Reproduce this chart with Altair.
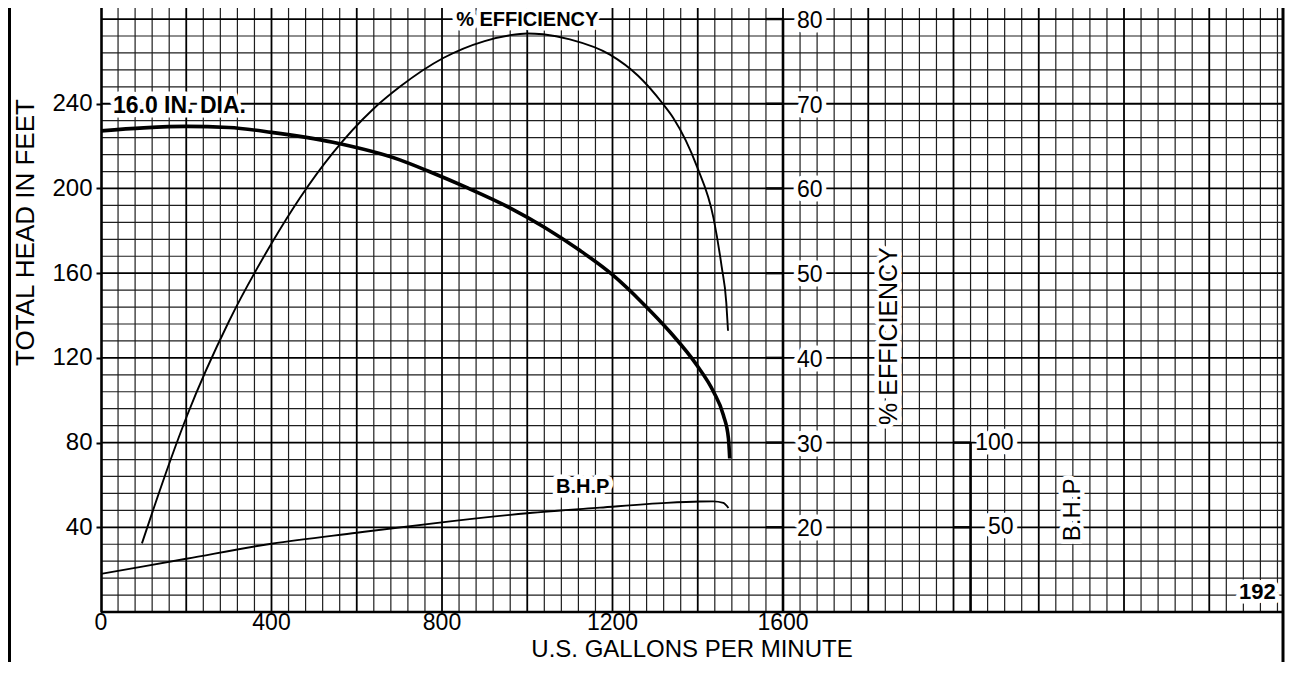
import altair as alt
import pandas as pd

# ---------------- data ----------------
# head-capacity curve (16.0 in. impeller)
gpm_head = [0, 100, 200, 300, 400, 544, 701, 770, 856, 958, 1041, 1123, 1199,
            1272, 1335, 1398, 1437, 1460, 1472, 1475]
head_ft = [227.2, 228.6, 229.3, 228.8, 226.5, 221.8, 213.5, 208.0, 200.6, 191.0,
           181.6, 170.8, 159.4, 145.6, 132.2, 116.5, 104.0, 93.0, 82.0, 72.5]

# efficiency curve (%)
gpm_eff = [96, 122, 162, 202, 300, 400, 467, 544, 637, 701, 803, 900, 960, 1000,
           1037, 1100, 1194, 1260, 1318, 1343, 1398, 1437, 1456, 1467, 1471]
eff_pct = [18.1, 22.0, 27.8, 33.2, 44.3, 53.5, 58.9, 64.2, 69.3, 72.0, 75.4, 77.4,
           78.1, 78.3, 78.2, 77.6, 75.8, 73.3, 70.0, 68.3, 62.6, 56.5, 50.8, 46.5, 43.2]

# brake horsepower curve
gpm_bhp = [0, 200, 400, 600, 819, 1000, 1170, 1327, 1405, 1436, 1460, 1472]
bhp_val = [22.5, 31.4, 40.3, 46.8, 53.5, 58.3, 61.6, 64.4, 65.2, 65.3, 64.4, 61.4]

# axis labels / ticks
x_label_values = [0, 400, 800, 1200, 1600]
y_label_values = [40, 80, 120, 160, 200, 240]
eff_tick_values = [20, 30, 40, 50, 60, 70, 80]
bhp_tick_values = [50, 100]
eff_axis_gpm = 1600
bhp_axis_gpm = 2040
tick_len_gpm = 40
x_title = "U.S. GALLONS PER MINUTE"
y_title = "TOTAL HEAD IN FEET"

# chart paper grid
x_grid_minor = [v for v in range(40, 2771, 40) if v % 200]
x_grid_major = list(range(200, 2771, 200))
y_grid_minor = [v for v in range(8, 289, 8) if v % 40]
y_grid_major = list(range(40, 289, 40))

# annotations (positions in gpm / feet of head)
notes_text = ["16.0 IN. DIA.", "% EFFICIENCY", "B.H.P", "192"]
notes_gpm = [184, 1000, 1130, 2713]
notes_head = [239.0, 279.5, 59.0, 9.4]
notes_size = [23, 20, 20, 22]

vnotes_text = ["% EFFICIENCY", "B.H.P"]
vnotes_gpm = [1848, 2280]
vnotes_head = [130.3, 48.2]
vnotes_size = [25, 24]

# ---------------- scales ----------------
W, H = 1182, 612
X_MAX = 2773
HEAD_MAX = 289
X_SCALE = alt.Scale(domain=[0, X_MAX], nice=False, zero=False)
HEAD_SCALE = alt.Scale(domain=[0, HEAD_MAX], nice=False, zero=False)
EFF_SCALE = alt.Scale(domain=[10, 10 + HEAD_MAX / 4], nice=False, zero=False)
BHP_SCALE = alt.Scale(domain=[0, HEAD_MAX * 1.25], nice=False, zero=False)
FONT = "Liberation Sans"


def xq(field):
    return alt.X(field, type="quantitative", scale=X_SCALE, axis=None)


def yq(field, scale):
    return alt.Y(field, type="quantitative", scale=scale, axis=None)


# ---------------- grid ----------------
grid_v_minor = alt.Chart(pd.DataFrame({"g": x_grid_minor})).mark_rule(
    color="#1e1e1e", strokeWidth=1.2).encode(x=xq("g"))
grid_v_major = alt.Chart(pd.DataFrame({"g": x_grid_major})).mark_rule(
    color="#000000", strokeWidth=1.8).encode(x=xq("g"))
grid_h_minor = alt.Chart(pd.DataFrame({"g": y_grid_minor})).mark_rule(
    color="#1e1e1e", strokeWidth=1.2).encode(y=yq("g", HEAD_SCALE))
grid_h_major = alt.Chart(pd.DataFrame({"g": y_grid_major})).mark_rule(
    color="#000000", strokeWidth=1.8).encode(y=yq("g", HEAD_SCALE))

# ---------------- label data frames ----------------
notes_df = pd.DataFrame({"t": notes_text, "gpm": notes_gpm, "head": notes_head, "s": notes_size})
vnotes_df = pd.DataFrame({"t": vnotes_text, "gpm": vnotes_gpm, "head": vnotes_head, "s": vnotes_size})
eff_lab_df = pd.DataFrame({"v": eff_tick_values, "gpm": [eff_axis_gpm] * len(eff_tick_values),
                           "g0": [eff_axis_gpm - tick_len_gpm] * len(eff_tick_values),
                           "t": [str(v) for v in eff_tick_values]})
bhp_lab_df = pd.DataFrame({"v": bhp_tick_values, "gpm": [bhp_axis_gpm] * len(bhp_tick_values),
                           "g0": [bhp_axis_gpm - tick_len_gpm] * len(bhp_tick_values),
                           "t": [str(v) for v in bhp_tick_values]})


def halo(kw):
    d = dict(kw)
    d.update(color="white", stroke="white", strokeWidth=9, strokeJoin="round")
    return d


notes_kw = dict(font=FONT, fontWeight="bold", align="center", baseline="middle")
vnotes_kw = dict(font=FONT, align="center", baseline="middle", angle=270)
efflab_kw = dict(font=FONT, fontSize=23, align="left", baseline="middle", dx=14, dy=2)
bhplab_kw = dict(font=FONT, fontSize=23, align="right", baseline="middle", dx=43)

notes_enc = dict(x=xq("gpm"), y=yq("head", HEAD_SCALE), text="t:N",
                 size=alt.Size("s:Q", scale=None, legend=None))
effl_enc = dict(x=xq("gpm"), y=yq("v", EFF_SCALE), text="t:N")
bhpl_enc = dict(x=xq("gpm"), y=yq("v", BHP_SCALE), text="t:N")

halo_layers = [
    alt.Chart(notes_df).mark_text(**halo(notes_kw)).encode(**notes_enc),
    alt.Chart(vnotes_df).mark_text(**halo(vnotes_kw)).encode(**notes_enc),
    alt.Chart(eff_lab_df).mark_text(**halo(efflab_kw)).encode(**effl_enc),
    alt.Chart(bhp_lab_df).mark_text(**halo(bhplab_kw)).encode(**bhpl_enc),
]
text_layers = [
    alt.Chart(notes_df).mark_text(color="black", **notes_kw).encode(**notes_enc),
    alt.Chart(vnotes_df).mark_text(color="black", **vnotes_kw).encode(**notes_enc),
    alt.Chart(eff_lab_df).mark_text(color="black", **efflab_kw).encode(**effl_enc),
    alt.Chart(bhp_lab_df).mark_text(color="black", **bhplab_kw).encode(**bhpl_enc),
]

# ---------------- internal efficiency and BHP scales ----------------
eff_bar = alt.Chart(pd.DataFrame({"gpm": [eff_axis_gpm], "top": [max(eff_tick_values)],
                                  "bot": [EFF_SCALE.domain[0]]})).mark_rule(
    color="black", strokeWidth=2.6).encode(x=xq("gpm"), y=yq("top", EFF_SCALE), y2="bot")
eff_ticks = alt.Chart(eff_lab_df).mark_rule(color="black", strokeWidth=2.4).encode(
    x=xq("g0"), x2="gpm", y=yq("v", EFF_SCALE))
bhp_bar = alt.Chart(pd.DataFrame({"gpm": [bhp_axis_gpm], "top": [max(bhp_tick_values)],
                                  "bot": [BHP_SCALE.domain[0]]})).mark_rule(
    color="black", strokeWidth=2.6).encode(x=xq("gpm"), y=yq("top", BHP_SCALE), y2="bot")
bhp_ticks = alt.Chart(bhp_lab_df).mark_rule(color="black", strokeWidth=2.4).encode(
    x=xq("g0"), x2="gpm", y=yq("v", BHP_SCALE))

# ---------------- x axis (drawn from the label list through the x scale) ----------------
xlab_df = pd.DataFrame({"gpm": x_label_values, "t": [str(v) for v in x_label_values]})
x_labels = alt.Chart(xlab_df).mark_text(
    font=FONT, fontSize=23, color="black", align="center", baseline="middle").encode(
    x=xq("gpm"), y=alt.value(H + 11), text="t:N")
x_title_mark = alt.Chart(pd.DataFrame({"gpm": [X_MAX / 2], "t": [x_title]})).mark_text(
    font=FONT, fontSize=24, color="black", align="center", baseline="middle").encode(
    x=xq("gpm"), y=alt.value(H + 37.5), text="t:N")
x_domain = alt.Chart(pd.DataFrame({"h": [0]})).mark_rule(
    color="black", strokeWidth=2.6).encode(y=yq("h", HEAD_SCALE))

# ---------------- curves ----------------
y_axis = alt.Axis(values=y_label_values, title=y_title, orient="left",
                  titleFont=FONT, titleFontSize=26, titleFontWeight="normal",
                  titleColor="black", titleX=-76, titleY=232, titleAngle=270,
                  titleBaseline="middle", titleAnchor="middle",
                  labelFont=FONT, labelFontSize=24, labelColor="black",
                  labelPadding=4, tickSize=5, tickWidth=2, tickColor="black",
                  labelOverlap=False, labelFlush=False,
                  domainColor="black", domainWidth=2.6, grid=False, zindex=2)

head_line = alt.Chart(pd.DataFrame({"gpm": gpm_head, "head": head_ft})).mark_line(
    color="black", strokeWidth=3.6, interpolate="monotone").encode(
    x=xq("gpm"),
    y=alt.Y("head:Q", scale=HEAD_SCALE, axis=y_axis))

eff_line = alt.Chart(pd.DataFrame({"gpm": gpm_eff, "eff": eff_pct})).mark_line(
    color="black", strokeWidth=1.9, interpolate="monotone").encode(
    x=xq("gpm"), y=yq("eff", EFF_SCALE))

bhp_line = alt.Chart(pd.DataFrame({"gpm": gpm_bhp, "bhp": bhp_val})).mark_line(
    color="black", strokeWidth=1.9, interpolate="monotone").encode(
    x=xq("gpm"), y=yq("bhp", BHP_SCALE))

# ---------------- frame ----------------
one = pd.DataFrame({"a": [0]})
frame_left = alt.Chart(one).mark_rule(color="black", strokeWidth=3).encode(
    x=alt.value(-91.5), y=alt.value(-10), y2=alt.value(H + 100))
frame_right = alt.Chart(one).mark_rule(color="black", strokeWidth=3).encode(
    x=alt.value(W), y=alt.value(-10), y2=alt.value(H + 100))

chart = alt.layer(
    grid_v_minor, grid_h_minor, grid_v_major, grid_h_major,
    *halo_layers,
    eff_bar, eff_ticks, bhp_bar, bhp_ticks,
    head_line, eff_line, bhp_line,
    *text_layers,
    x_domain, x_labels, x_title_mark,
    frame_left, frame_right,
).resolve_scale(y="independent").properties(
    width=W, height=H,
    autosize=alt.AutoSizeParams(type="none"),
    padding={"left": 93, "top": -8, "right": 2, "bottom": 50},
).configure(font=FONT).configure_view(stroke="transparent")

chart.save("out.html", embed_options={"renderer": "svg", "actions": False})
